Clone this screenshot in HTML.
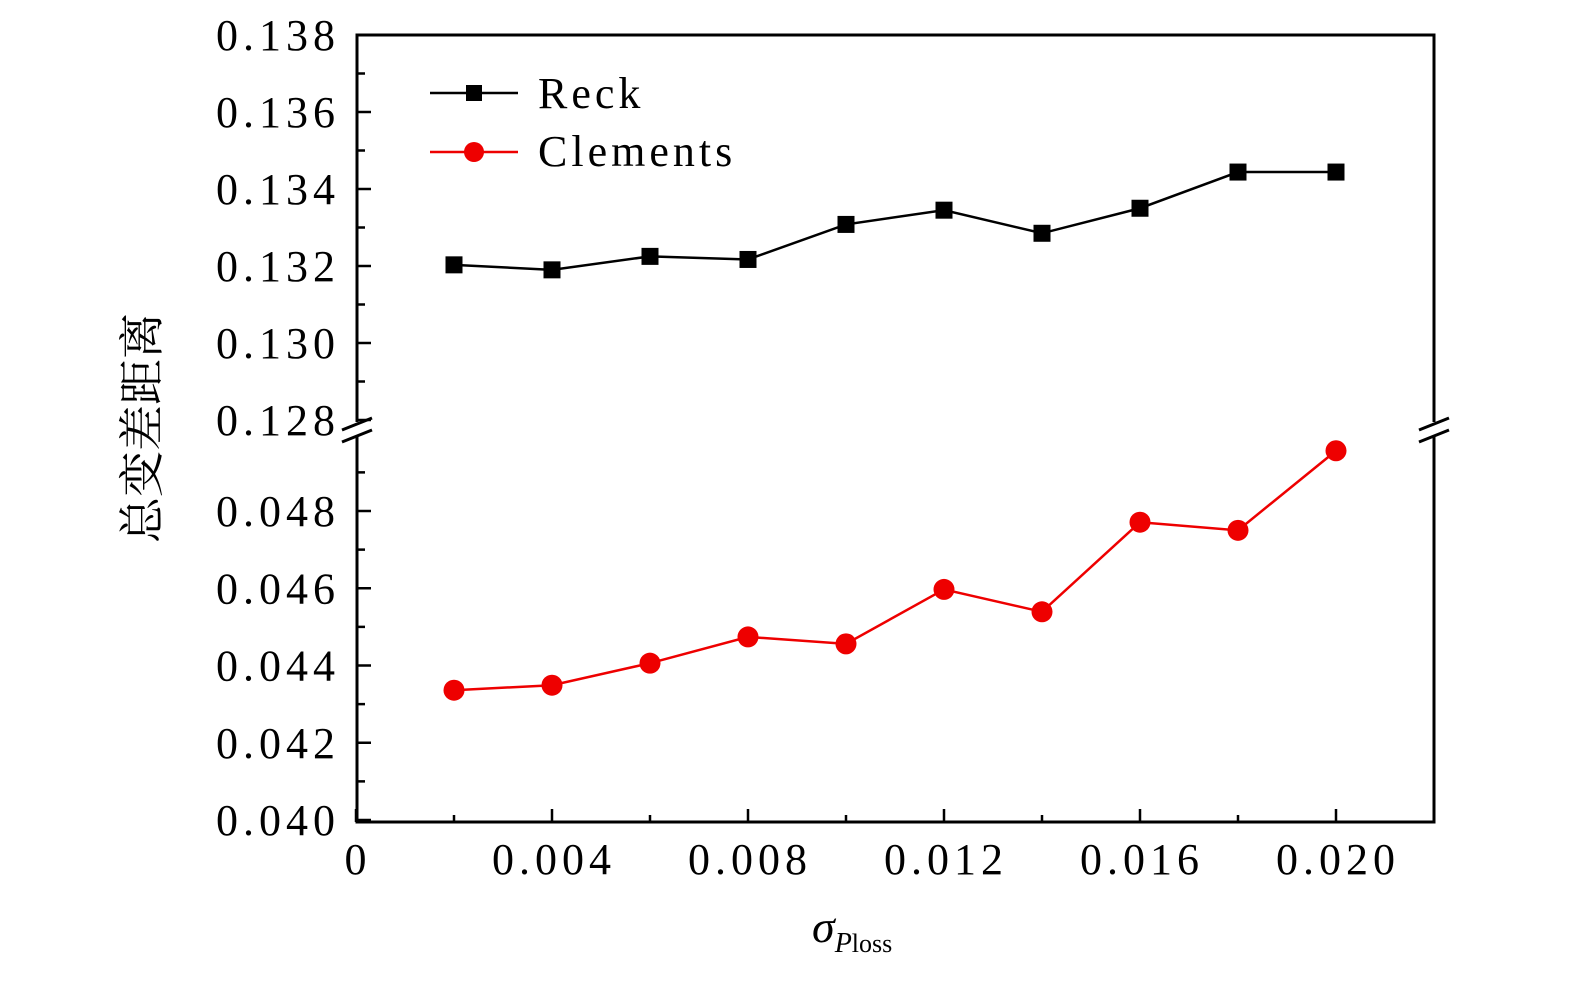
<!DOCTYPE html>
<html><head><meta charset="utf-8"><style>
html,body{margin:0;padding:0;background:#fff;}
svg text{font-family:"Liberation Serif","Noto Serif CJK SC",serif;fill:#000;}
.n{letter-spacing:5px;}
</style></head><body>
<svg id="chart" width="1575" height="984" xmlns="http://www.w3.org/2000/svg">
<g id="axes"></g>
<g id="series"></g>
<text transform="translate(158,428) rotate(-90)" text-anchor="middle" font-size="46" font-family="Noto Serif CJK SC, serif">总变差距离</text>
<text x="812" y="942" font-size="46" font-style="italic">σ<tspan font-size="28" dy="10">P</tspan><tspan font-size="26" font-style="normal">loss</tspan></text>
<g>
  <g>
    <line x1="430" y1="93" x2="518" y2="93" stroke="#000" stroke-width="2.5"/>
    <rect x="466" y="85" width="16" height="16" fill="#000"/>
    <text x="538" y="108" font-size="44" style="letter-spacing:4px">Reck</text>
  </g>
  <g>
    <line x1="430" y1="152" x2="518" y2="152" stroke="#e00" stroke-width="2.5"/>
    <circle cx="474" cy="152" r="10" fill="#e00"/>
    <text x="538" y="166" font-size="44" style="letter-spacing:4px">Clements</text>
  </g>
</g>
</svg>
<script>
const xValues=[0.002,0.004,0.006,0.008,0.010,0.012,0.014,0.016,0.018,0.020];
const reckValues=[0.13203,0.1319,0.13225,0.13217,0.13308,0.13345,0.13285,0.1335,0.13444,0.13444];
const clementsValues=[0.04336,0.04349,0.04406,0.04474,0.04456,0.04597,0.04539,0.04771,0.04750,0.04956];
const xTickLabels=["0","0.004","0.008","0.012","0.016","0.020"];
const xTickValues=[0,0.004,0.008,0.012,0.016,0.020];
const upperTickLabels=["0.128","0.130","0.132","0.134","0.136","0.138"];
const upperTickValues=[0.128,0.130,0.132,0.134,0.136,0.138];
const lowerTickLabels=["0.040","0.042","0.044","0.046","0.048"];
const lowerTickValues=[0.040,0.042,0.044,0.046,0.048];

const NS="http://www.w3.org/2000/svg";
const L=357,R=1434,T=35,B=822;
const X=v=>356+v/0.022*(1434-356);
const YU=v=>35+(0.138-v)/0.010*385;
const YL=v=>820-(v-0.040)/0.002*77.25;
const Y=v=>v>0.1?YU(v):YL(v);
function mk(tag,attrs,parent){const e=document.createElementNS(NS,tag);for(const k in attrs)e.setAttribute(k,attrs[k]);parent.appendChild(e);return e;}
const axes=document.getElementById('axes');
const series=document.getElementById('series');
const st={stroke:"#000","stroke-width":3,fill:"none"};
let p=mk('path',Object.assign({d:`M${L},422 L${L},${T} L${R},${T} L${R},422 M${R},437 L${R},${B} L${L},${B} L${L},437`},st),axes);


[L,R].forEach((x,i)=>{
  const g=mk('g',{},axes);
  
  
  mk('line',{x1:x-15,y1:430,x2:x+15,y2:418,stroke:"#000","stroke-width":3},g);
  mk('line',{x1:x-15,y1:442,x2:x+15,y2:430,stroke:"#000","stroke-width":3},g);
});
xTickValues.forEach((v,i)=>{
  const x=X(v);
  mk('line',{x1:x,y1:B,x2:x,y2:B-13,stroke:"#000","stroke-width":2.5},axes);
  const t=mk('text',{x:x+2,y:874,"text-anchor":"middle","font-size":44,"class":"n"},axes);
  t.textContent=xTickLabels[i];
  
  
  if(i<xTickValues.length-1){const xm=X(v+0.002);mk('line',{x1:xm,y1:B,x2:xm,y2:B-7,stroke:"#000","stroke-width":2.5},axes);}
});
function yTicks(vals,labels,fn,lower){
  vals.forEach((v,i)=>{
    const y=fn(v);
    mk('line',{x1:L,y1:y,x2:L+14,y2:y,stroke:"#000","stroke-width":2.5},axes);
    const t=mk('text',{x:340,y:y+15,"text-anchor":"end","font-size":44,"class":"n"},axes);
    t.textContent=labels[i];
    
    
    const ym=fn(v+0.001);
    if(ym>T&&(lower?ym>437:true))mk('line',{x1:L,y1:ym,x2:L+8,y2:ym,stroke:"#000","stroke-width":2.5},axes);
  });
}
yTicks(upperTickValues,upperTickLabels,YU,false);
yTicks(lowerTickValues,lowerTickLabels,YL,true);
function draw(vals,color,marker,name){
  const g=mk('g',{},series);
  
  
  const pts=vals.map((v,i)=>X(xValues[i])+","+Y(v)).join(" ");
  mk('polyline',{points:pts,fill:"none",stroke:color,"stroke-width":2.5},g);
  vals.forEach((v,i)=>{
    const x=X(xValues[i]),y=Y(v);
    let m;
    if(marker==='sq')m=mk('rect',{x:x-8.5,y:y-8.5,width:17,height:17,fill:color},g);
    else m=mk('circle',{cx:x,cy:y,r:10.5,fill:color},g);
    
    
  });
}
draw(reckValues,"#000",'sq','reck-series');
draw(clementsValues,"#e00",'ci','clements-series');
</script>
</body></html>
